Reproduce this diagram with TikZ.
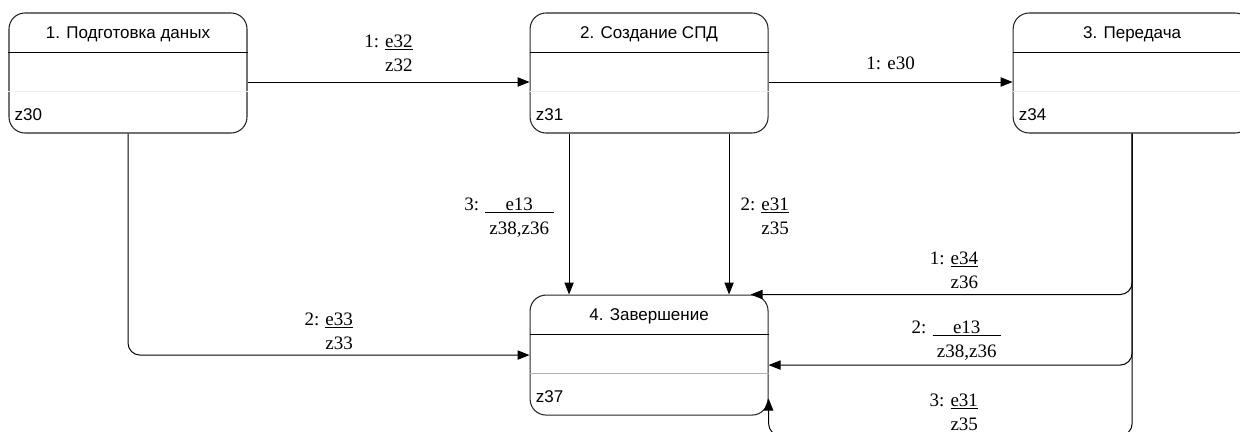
\documentclass[tikz,border=0pt]{standalone}
\usepackage{fontspec}
\setmainfont{Liberation Serif}
\setsansfont{Liberation Sans}
\usetikzlibrary{arrows.meta,positioning,calc}

% condition label: number, event (underlined), actions
\newcommand{\cnd}[3]{\begin{tabular}{@{}r@{\hspace{4.5pt}}c@{}}#1: & \underline{#2}\\ & #3\end{tabular}}

\begin{document}
\begin{tikzpicture}[x=0.75pt,y=-0.75pt,>={Triangle[length=9pt,width=7pt]},
    state box/.style={draw=black!85,line width=0.8pt,rounded corners=12pt,minimum width=178.5pt,minimum height=90pt,inner sep=0pt},
    title/.style={font=\sffamily\fontsize{12.75}{15}\selectfont,inner sep=0pt},
    act/.style={font=\sffamily\fontsize{12.75}{15}\selectfont,inner sep=0pt,anchor=west},
    flow/.style={->,line width=0.75pt,rounded corners=9pt},
    cond/.style={font=\fontsize{14.25}{18}\selectfont,inner sep=1pt}]

    \useasboundingbox (0,0) rectangle (1240,432);

    \node[state box] (b1) at (128,73) {};
    \node[state box, right=211.5pt of b1] (b2) {};
    \node[state box, right=183pt of b2] (b3) {};
    \node[state box, below=120.75pt of b2] (b4) {};

    \foreach \b/\t/\z/\g in {b1/{1. Подготовка даных}/z30/8, b2/{2. Создание СПД}/z31/8, b3/{3. Передача}/z34/8, b4/{4. Завершение}/z37/30}{
        \draw[line width=0.75pt] ([yshift=-30pt]\b.north west) -- ([yshift=-30pt]\b.north east);
        \draw[black!\g, line width=0.75pt] ([yshift=-59.25pt]\b.north west) -- ([yshift=-59.25pt]\b.north east);
        \node[title] (t-\b) at ([yshift=-16.5pt]\b.north) {\t};
        \node[act] (z-\b) at ([xshift=4.5pt,yshift=14pt]\b.south west) {\z};
    }

    \coordinate (c41) at ([xshift=-13.5pt]b4.north east);
    \coordinate (c42) at ([yshift=-7.5pt]b4.east);
    \coordinate (c43) at ([yshift=12.75pt]b4.south east);
    \coordinate (c43b) at ([yshift=-15pt]b4.south east);

    \draw[flow] ([yshift=-6.75pt]b1.east) -- node[cond, above=1pt] (l12) {\cnd{1}{e32}{z32}} ([yshift=-6.75pt]b2.west);
    \draw[flow] ([yshift=-6.75pt]b2.east) -- node[cond, above=8pt] (l23) {1: e30} ([yshift=-6.75pt]b3.west);

    \draw[flow] ([xshift=-60pt]b2.south) -- node[cond, left=10.3pt, yshift=-2.6pt] (l24a) {\cnd{3}{\hspace{1.08em}e13\hspace{1.08em}}{z38,z36}} ([xshift=-60pt]b4.north);
    \draw[flow] ([xshift=60pt]b2.south) -- node[cond, right=7.3pt, yshift=-2.6pt] (l24b) {\cnd{2}{e31}{z35}} ([xshift=60pt]b4.north);

    \draw[flow] (b1.south) |- node[cond, pos=0.75, above=-2.6pt] (l14) {\cnd{2}{e33}{z33}} (b4.west);

    \draw[flow] (b3.south) |- node[cond, pos=0.75, above=-2.25pt, xshift=9.4pt] (l34a) {\cnd{1}{e34}{z36}} (c41);
    \draw[flow] (b3.south) |- node[cond, pos=0.75, above=-0.75pt, xshift=4.5pt] (l34b) {\cnd{2}{\hspace{1.08em}e13\hspace{1.08em}}{z38,z36}} (c42);
    \draw[flow] (b3.south) |- node[cond, pos=0.75, above=-3pt, xshift=2.6pt] (l34c) {\cnd{3}{e31}{z35}} (c43b) -- (c43);

\end{tikzpicture}
\end{document}
